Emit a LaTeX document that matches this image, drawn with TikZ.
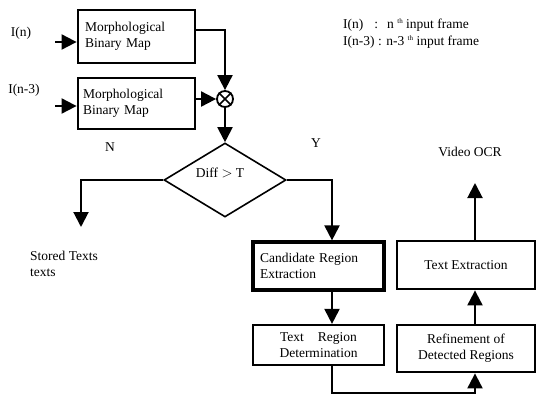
\documentclass[tikz,border=0pt]{standalone}
\usepackage{fontspec}
\setmainfont{Liberation Serif}
\usetikzlibrary{arrows.meta,shapes.geometric}
\newcommand{\supth}{\raisebox{4.5pt}{\fontsize{7}{7}\selectfont th}}
\begin{document}
\begin{tikzpicture}[x=1pt,y=-1pt,
  every node/.style={font=\fontsize{13.5}{16}\selectfont, inner sep=0pt},
  blk/.style={draw, line width=2.8pt, rectangle},
  blkthin/.style={draw, line width=2.2pt, rectangle},
  arr/.style={line width=2pt, -{Triangle[length=15pt,width=15pt]}},
  ln/.style={line width=2pt}]
\useasboundingbox (0,0) rectangle (536,394);

% boxes
\node[blk, minimum width=117pt, minimum height=53pt, text width=103pt, align=left] (m1) at (136.5,36.5) {Morphological\\Binary Map};
\node[blk, minimum width=117pt, minimum height=51pt, text width=107pt, align=left] (m2) at (136.5,103.5) {Morphological\\Binary Map};
\node[circle, draw, line width=1.8pt, minimum size=16pt] (mul) at (225,99) {};
\draw[line width=1.6pt] (mul.north east) -- (mul.south west) (mul.north west) -- (mul.south east);
\node[diamond, draw, line width=1.6pt, minimum width=122pt, minimum height=74pt] (dia) at (225,180) {};
\node (dtext) at (220,173) {Diff $>$ T};

\node[blk, line width=3.2pt, minimum width=131pt, minimum height=48pt, text width=117pt, align=left] (cand) at (318.5,266) {Candidate Region\\Extraction};
\node[blkthin, minimum width=131pt, minimum height=40pt, align=center] (treg) at (318.5,345) {Text\hspace{0.8em} Region\\Determination};
\node[blk, minimum width=138pt, minimum height=48pt, align=center] (textx) at (466,265) {Text Extraction};
\node[blk, minimum width=138pt, minimum height=47pt, align=center] (refn) at (466,348.5) {Refinement of\\Detected Regions};

% labels
\node (lin) at (21,33) {I(n)};
\node (lin3) at (24,90) {I(n-3)};
\node[anchor=west] (leg1) at (343,25) {I(n)\hspace{11pt}:\hspace{9pt}n \supth\ input frame};
\node[anchor=west] (leg2) at (343,42) {I(n-3) : n-3 \supth\ input frame};
\node (nlab) at (110,147) {N};
\node (ylab) at (316,143) {Y};
\node (vocr) at (470,152) {Video OCR};
\node[anchor=west, align=left] (stored) at (30,264) {Stored Texts\\texts};

% connectors
\coordinate (in1) at (55,42);
\coordinate (in3) at (55,106);
\coordinate (st) at (81,227);
\coordinate (ocr) at (475,183);
\draw[arr] (in1) -- (in1 -| m1.west);
\draw[arr] (in3) -- (in3 -| m2.west);
\draw[arr] ([yshift=6.5pt]m1.east) -| (mul.north);
\draw[arr] (m2.east |- mul) -- (mul.west);
\draw[arr] (mul.south) -- (dia.north);
\draw[arr] (dia.west) -| (st);
\draw[arr] (dia.east) -| ([xshift=13.5pt]cand.north);
\draw[arr] ([xshift=13.5pt]cand.south) -- ([xshift=13.5pt]treg.north);
\draw[arr] ([xshift=13.5pt]treg.south) -- ++(0,27) -| ([xshift=9pt]refn.south);
\draw[arr] ([xshift=9pt]refn.north) -- ([xshift=9pt]textx.south);
\draw[arr] ([xshift=9pt]textx.north) -- (ocr);
\end{tikzpicture}
\end{document}
